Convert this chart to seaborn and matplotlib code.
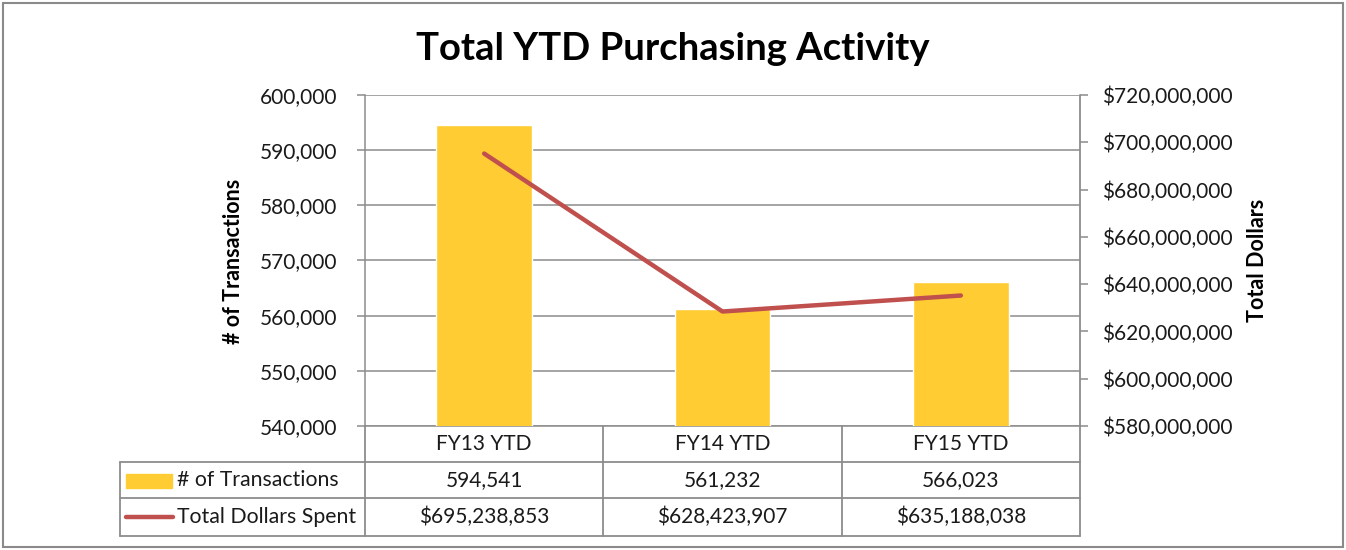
import matplotlib
matplotlib.use("Agg")
import matplotlib.pyplot as plt
import matplotlib.transforms as mtransforms
from matplotlib.lines import Line2D
from matplotlib.patches import Rectangle
from matplotlib.ticker import FuncFormatter, MultipleLocator
import seaborn as sns
import pandas as pd

# Purchasing activity data
periods = ["FY13 YTD", "FY14 YTD", "FY15 YTD"]
transactions = [594541, 561232, 566023]
dollars_spent = [695238853, 628423907, 635188038]
series_names = ["# of Transactions", "Total Dollars Spent"]

BAR_COLOR = "#FFCC33"
LINE_COLOR = "#C0504D"
GRAY = "#8C8C8C"
TEXT = "#1a1a1a"

sns.set_theme(style="white")
plt.rcParams["font.family"] = ["Lato", "DejaVu Sans"]

W, H = 1346, 550
fig = plt.figure(figsize=(W / 100, H / 100), dpi=100)

def fx(px):
    return px / W

def fy(py):
    return 1 - py / H

L, R, T, B = 365, 1080, 95, 426
ax = fig.add_axes([fx(L), fy(B), fx(R) - fx(L), fy(T) - fy(B)])

df = pd.DataFrame({"period": periods, "transactions": transactions,
                   "dollars": dollars_spent})

sns.barplot(data=df, x="period", y="transactions", color=BAR_COLOR,
            saturation=1, width=0.4, ax=ax, zorder=3)
ax.set_xlim(-0.5, 2.5)
ax.set_ylim(540000, 600000)
ax.yaxis.set_major_locator(MultipleLocator(10000))
ax.yaxis.set_major_formatter(FuncFormatter(lambda v, p: f"{v:,.0f}"))
ax.grid(axis="y", color=GRAY, linewidth=1.1, zorder=0)
ax.grid(axis="x", visible=False)
ax.set_xlabel("")
ax.set_ylabel("")
ax.set_xticks([])
ax.tick_params(axis="y", which="major", length=6, width=1.1, color=GRAY,
               pad=14, labelsize=15, labelcolor=TEXT, left=True, direction="out")
for side in ("left", "right", "bottom", "top"):
    ax.spines[side].set_color(GRAY)
    ax.spines[side].set_linewidth(1.1)
ax.spines["top"].set_visible(False)
ax.spines["right"].set_visible(False)

ax2 = ax.twinx()
sns.lineplot(data=df, x="period", y="dollars", color=LINE_COLOR, linewidth=3.2,
             sort=False, ax=ax2, zorder=4)
ax2.set_ylim(580e6, 720e6)
ax2.yaxis.set_major_locator(MultipleLocator(20e6))
ax2.yaxis.set_major_formatter(FuncFormatter(lambda v, p: f"${v:,.0f}"))
ax2.set_ylabel("")
ax2.set_xlabel("")
ax2.tick_params(axis="y", which="major", length=6, width=1.1, color=GRAY,
                pad=10, labelsize=15, labelcolor=TEXT, right=True, direction="out")
for side in ("left", "right", "bottom", "top"):
    ax2.spines[side].set_visible(False)
ax2.set_xlim(-0.5, 2.5)

# Title and axis titles
fig.text(0.5, fy(49), "Total YTD Purchasing Activity", ha="center", va="center",
         fontsize=27.5, fontweight="bold", color="black")
fig.text(fx(233), fy(261), "# of Transactions", rotation=90, ha="center",
         va="center", fontsize=15.5, fontweight="bold", color="black")
fig.text(fx(1257), fy(260), "Total Dollars", rotation=90, ha="center",
         va="center", fontsize=15.5, fontweight="bold", color="black")

# Data table underneath the plot area
tr = mtransforms.blended_transform_factory(ax.transData, fig.transFigure)
tf = fig.transFigure
rows_y = [426, 462, 498, 536]
left_px = 120
cat_edges = [-0.5, 0.5, 1.5, 2.5]

def add_line(xs, ys, transform):
    fig.add_artist(Line2D(xs, ys, transform=transform, color=GRAY,
                          linewidth=1.3, clip_on=False))

# horizontal rules
for py in rows_y[1:]:
    add_line([fx(left_px), fx(R)], [fy(py), fy(py)], tf)
# vertical rules
add_line([fx(left_px), fx(left_px)], [fy(rows_y[1]), fy(rows_y[3])], tf)
add_line([fx(L), fx(L)], [fy(B), fy(rows_y[3])], tf)
add_line([fx(R), fx(R)], [fy(T), fy(rows_y[3])], tf)
for e in cat_edges[1:-1]:
    add_line([e, e], [fy(rows_y[0]), fy(rows_y[3])], tr)

row_mid = [(rows_y[i] + rows_y[i + 1]) / 2 for i in range(3)]
for i, p in enumerate(periods):
    fig.text(i, fy(row_mid[0]), p, transform=tr, ha="center", va="center",
             fontsize=15, color=TEXT)
    fig.text(i, fy(row_mid[1]), f"{transactions[i]:,}", transform=tr,
             ha="center", va="center", fontsize=15, color=TEXT)
    fig.text(i, fy(row_mid[2]), f"${dollars_spent[i]:,}", transform=tr,
             ha="center", va="center", fontsize=15, color=TEXT)

# legend keys in the first column
fig.add_artist(Rectangle((fx(126), fy(488)), fx(172) - fx(126), fy(474) - fy(488),
                         transform=tf, color=BAR_COLOR, clip_on=False))
fig.add_artist(Line2D([fx(126), fx(173)], [fy(517), fy(517)], transform=tf,
                      color=LINE_COLOR, linewidth=3.2, solid_capstyle="round"))
fig.text(fx(177), fy(row_mid[1]), series_names[0], ha="left", va="center",
         fontsize=15.3, color=TEXT)
fig.text(fx(177), fy(row_mid[2]), series_names[1], ha="left", va="center",
         fontsize=15.3, color=TEXT)

# chart border
fig.add_artist(Rectangle((fx(3), fy(547)), fx(1343) - fx(3), fy(3) - fy(547),
                         transform=tf, fill=False, edgecolor="#8A8A8A",
                         linewidth=1.5, clip_on=False))

fig.savefig("out.png", dpi=100, facecolor="white")
